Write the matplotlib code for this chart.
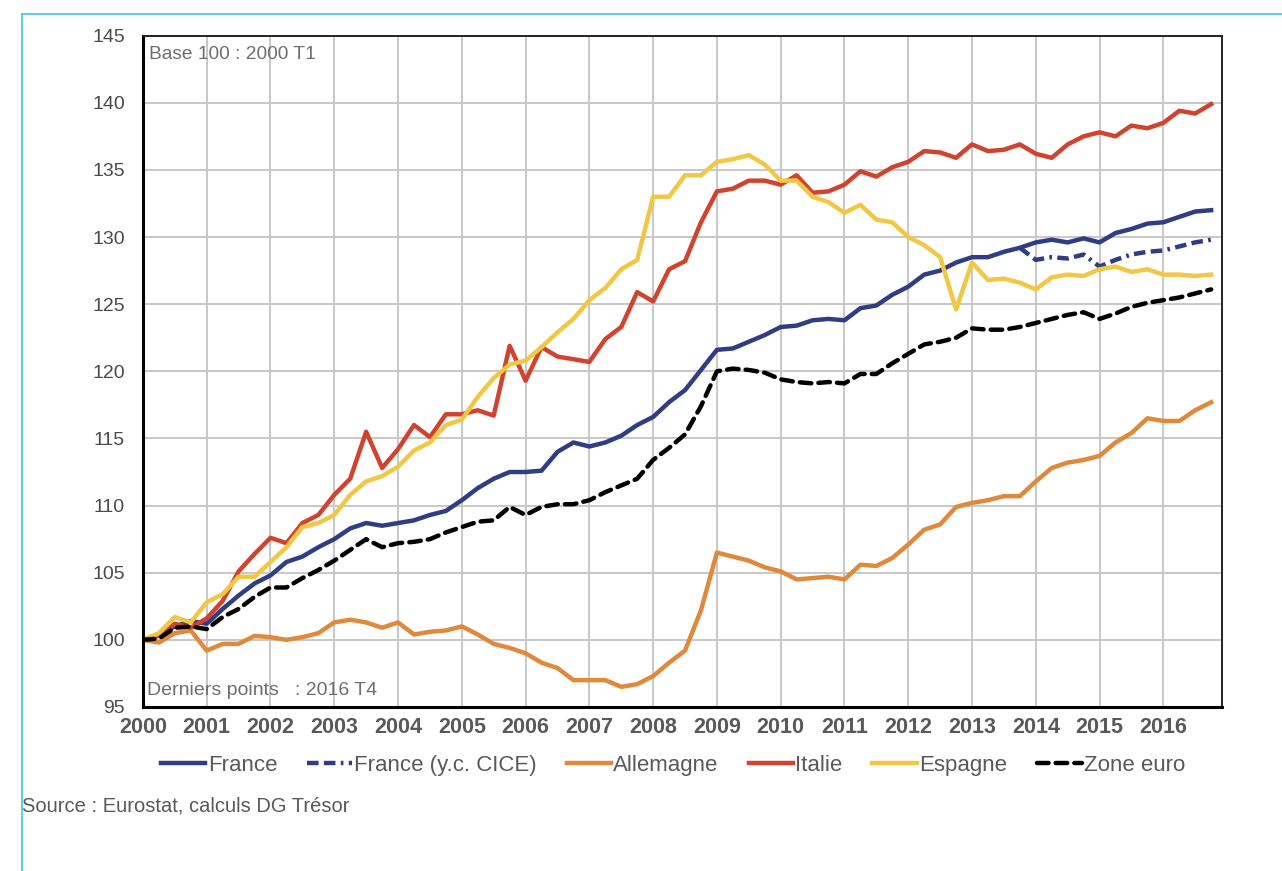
import matplotlib
matplotlib.use("Agg")
import matplotlib.pyplot as plt
import numpy as np
from matplotlib.lines import Line2D

plt.rcParams['font.family'] = ['Liberation Sans', 'DejaVu Sans']

# quarterly index, base 100 = 2000 T1, last point 2016 T4
years = np.arange(2000, 2017)
quarters = 2000 + np.arange(68) / 4

france = [100.0, 100.4, 101.0, 101.4, 101.2, 102.3, 103.3, 104.2, 104.8, 105.8,
          106.2, 106.9, 107.5, 108.3, 108.7, 108.5, 108.7, 108.9, 109.3, 109.6,
          110.4, 111.3, 112.0, 112.5, 112.5, 112.6, 114.0, 114.7, 114.4, 114.7,
          115.2, 116.0, 116.6, 117.7, 118.6, 120.1, 121.6, 121.7, 122.2, 122.7,
          123.3, 123.4, 123.8, 123.9, 123.8, 124.7, 124.9, 125.7, 126.3, 127.2,
          127.5, 128.1, 128.5, 128.5, 128.9, 129.2, 129.6, 129.8, 129.6, 129.9,
          129.6, 130.3, 130.6, 131.0, 131.1, 131.5, 131.9, 132.0]

france_cice = [np.nan] * 55 + [129.2, 128.3, 128.5, 128.4, 128.7, 127.8, 128.3,
                               128.7, 128.9, 129.0, 129.3, 129.6, 129.8]

allemagne = [100.0, 99.8, 100.5, 100.7, 99.2, 99.7, 99.7, 100.3, 100.2, 100.0,
             100.2, 100.5, 101.3, 101.5, 101.3, 100.9, 101.3, 100.4, 100.6, 100.7,
             101.0, 100.4, 99.7, 99.4, 99.0, 98.3, 97.9, 97.0, 97.0, 97.0,
             96.5, 96.7, 97.3, 98.3, 99.2, 102.2, 106.5, 106.2, 105.9, 105.4,
             105.1, 104.5, 104.6, 104.7, 104.5, 105.6, 105.5, 106.1, 107.1, 108.2,
             108.6, 109.9, 110.2, 110.4, 110.7, 110.7, 111.8, 112.8, 113.2, 113.4,
             113.7, 114.7, 115.4, 116.5, 116.3, 116.3, 117.1, 117.7]

italie = [100.0, 100.3, 101.2, 100.9, 101.6, 102.9, 105.1, 106.4, 107.6, 107.2,
          108.7, 109.3, 110.8, 112.0, 115.5, 112.8, 114.2, 116.0, 115.1, 116.8,
          116.8, 117.1, 116.7, 121.9, 119.3, 121.8, 121.1, 120.9, 120.7, 122.4,
          123.3, 125.9, 125.2, 127.6, 128.2, 131.1, 133.4, 133.6, 134.2, 134.2,
          133.9, 134.6, 133.3, 133.4, 133.9, 134.9, 134.5, 135.2, 135.6, 136.4,
          136.3, 135.9, 136.9, 136.4, 136.5, 136.9, 136.2, 135.9, 136.9, 137.5,
          137.8, 137.5, 138.3, 138.1, 138.5, 139.4, 139.2, 139.9]

espagne = [100.0, 100.5, 101.7, 101.3, 102.8, 103.4, 104.7, 104.7, 105.8, 106.9,
           108.4, 108.7, 109.3, 110.8, 111.8, 112.2, 112.9, 114.1, 114.7, 116.0,
           116.4, 118.1, 119.5, 120.5, 120.8, 121.8, 122.9, 123.9, 125.3, 126.2,
           127.6, 128.3, 133.0, 133.0, 134.6, 134.6, 135.6, 135.8, 136.1, 135.4,
           134.2, 134.2, 133.0, 132.6, 131.8, 132.4, 131.3, 131.1, 130.0, 129.4,
           128.5, 124.6, 128.1, 126.8, 126.9, 126.6, 126.1, 127.0, 127.2, 127.1,
           127.6, 127.8, 127.4, 127.6, 127.2, 127.2, 127.1, 127.2]

zone_euro = [100.0, 100.1, 100.9, 101.0, 100.8, 101.7, 102.3, 103.2, 103.9, 103.9,
             104.6, 105.2, 105.9, 106.7, 107.5, 106.9, 107.2, 107.3, 107.5, 108.0,
             108.4, 108.8, 108.9, 109.9, 109.3, 109.9, 110.1, 110.1, 110.4, 111.0,
             111.5, 112.0, 113.4, 114.3, 115.3, 117.4, 120.0, 120.2, 120.1, 119.9,
             119.4, 119.2, 119.1, 119.2, 119.1, 119.8, 119.8, 120.6, 121.3, 122.0,
             122.2, 122.5, 123.2, 123.1, 123.1, 123.3, 123.6, 123.9, 124.2, 124.4,
             123.9, 124.3, 124.8, 125.1, 125.3, 125.5, 125.8, 126.1]

grey = '#595959'
c_fr = '#2F3D85'
c_de = '#E0893A'
c_it = '#D2432F'
c_es = '#F2C744'

fig = plt.figure(figsize=(12.82, 8.71), dpi=100)
ax = fig.add_axes([0.1115, 0.1883, 0.8417, 0.7708])

lw = 3.2
ax.plot(quarters, france, color=c_fr, lw=lw, label='France')
ax.plot(quarters, france_cice, color=c_fr, lw=lw, label='France (y.c. CICE)',
        dashes=(2.6, 1.2, 2.6, 1.2, 0.6, 1.2), dash_capstyle='butt')
ax.plot(quarters, allemagne, color=c_de, lw=lw, label='Allemagne')
ax.plot(quarters, italie, color=c_it, lw=lw, label='Italie')
ax.plot(quarters, espagne, color=c_es, lw=lw, label='Espagne')
ax.plot(quarters, zone_euro, color='black', lw=lw, label='Zone euro',
        dashes=(2.6, 1.6), dash_capstyle='round')

ax.set_xlim(2000, 2016.92)
ax.set_ylim(95, 145)
ax.set_xticks(years)
ax.set_xticklabels([str(y) for y in years], fontsize=15.5, fontweight='bold', color=grey)
ax.set_yticks(np.arange(95, 146, 5))
ax.tick_params(axis='y', labelsize=14, labelcolor='#4A4A4A', length=0, pad=13)
ax.tick_params(axis='x', length=0, pad=7)
ax.grid(True, color='#C8C8C8', lw=1.4)
ax.set_axisbelow(True)
for side in ['left', 'bottom']:
    ax.spines[side].set_linewidth(2.2)
    ax.spines[side].set_color('black')
for side in ['top', 'right']:
    ax.spines[side].set_linewidth(1.4)
    ax.spines[side].set_color('#222222')

ax.text(0.006, 0.985, 'Base 100 : 2000 T1', transform=ax.transAxes,
        ha='left', va='top', fontsize=13.8, color='#6E6E6E')
ax.text(0.004, 0.012, 'Derniers points   : 2016 T4', transform=ax.transAxes,
        ha='left', va='bottom', fontsize=14, color='#6E6E6E')

leg = fig.legend(loc='center', bbox_to_anchor=(0.525, 0.121), ncol=6, frameon=False,
                 fontsize=16, handlelength=2.0, handletextpad=0.1, columnspacing=1.35,
                 labelcolor=grey)

fig.text(22 / 1282, 1 - 806 / 871, 'Source : Eurostat, calculs DG Trésor',
         fontsize=14.5, color=grey, ha='left', va='center')

# light blue frame lines (top and left)
fig.add_artist(Line2D([22 / 1282, 1], [1 - 14 / 871] * 2, color='#3FC6E8', lw=1.2))
fig.add_artist(Line2D([22 / 1282] * 2, [0, 1 - 14 / 871], color='#3FC6E8', lw=1.2))

fig.savefig('out.png', dpi=100)
